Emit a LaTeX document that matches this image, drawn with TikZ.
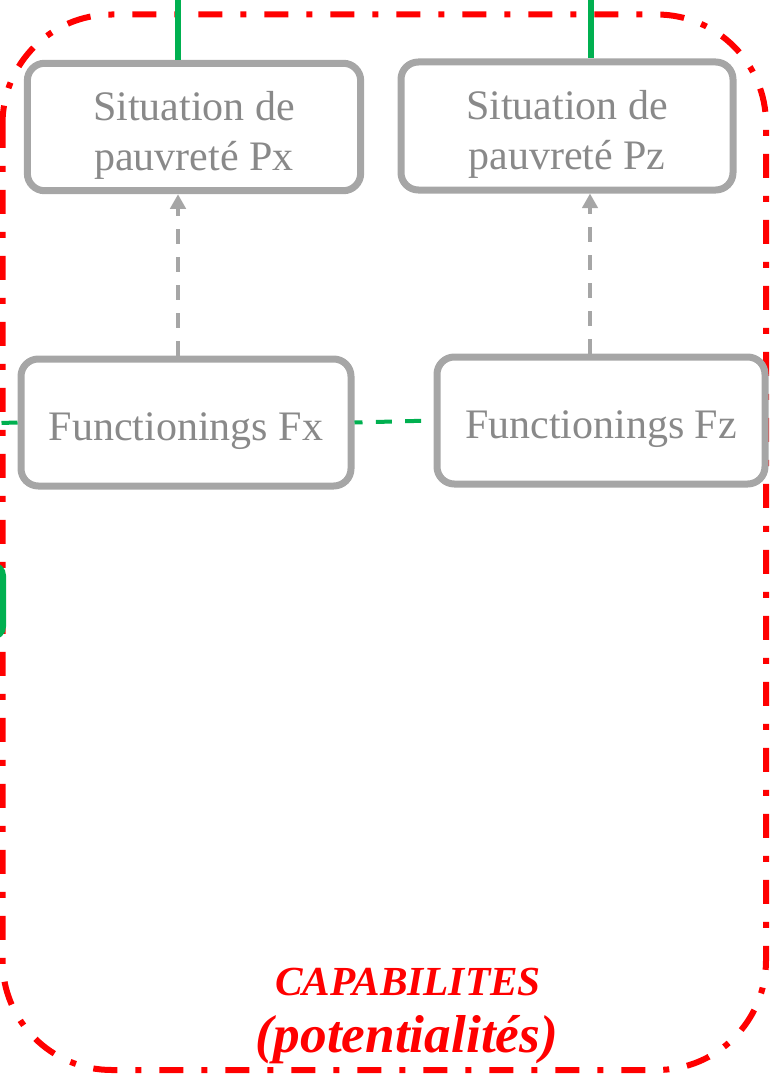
\documentclass[tikz,border=0pt]{standalone}
\usepackage{fontspec}
\setmainfont{Liberation Serif}
\usetikzlibrary{arrows.meta}
\definecolor{boxgray}{HTML}{A6A6A6}
\definecolor{txtgray}{HTML}{898989}
\definecolor{capred}{HTML}{FF0000}
\definecolor{linkgreen}{HTML}{00B050}

\begin{document}
\begin{tikzpicture}[x=0.75pt,y=-0.75pt,
    situbox/.style={draw=boxgray,line width=5.25pt,rounded corners=13pt,text=txtgray,
        align=center,inner sep=2pt,text depth=0pt,font=\fontsize{31.5}{37.5}\selectfont},
    greenlink/.style={draw=linkgreen,line width=4.5pt},
    greendash/.style={draw=linkgreen,line width=3pt,dash pattern=on 12pt off 10pt},
    grayarrow/.style={draw=boxgray,line width=3.5pt,dash pattern=on 11pt off 10pt,
        -{Triangle[length=11pt,width=11.5pt]}},
    capline/.style={draw=capred,line width=4.5pt,rounded corners=82pt,
        dash pattern=on 18pt off 13.5pt on 4.5pt off 13.5pt},
    captext/.style={text=capred,anchor=base,inner sep=0pt}]
    \useasboundingbox (0,0) rectangle (769,1074);
    \clip (0,0) rectangle (769,1074);
    % cadre capabilites
    \draw[capline] (2.5,14.5) rectangle (766,1070);
    % boites
    \node[situbox,text height=65pt,minimum width=250pt,minimum height=95.6pt] (Px) at (194,127)
        {Situation de\\pauvreté Px};
    \node[situbox,text height=65pt,minimum width=249pt,minimum height=96pt] (Pz) at (567,126)
        {Situation de\\pauvreté Pz};
    \node[situbox,text height=27pt,minimum width=247.5pt,minimum height=95.25pt] (Fx) at (186,422.5)
        {Functionings Fx};
    \node[situbox,text height=27pt,minimum width=246pt,minimum height=95.25pt] (Fz) at (601,420.5)
        {Functionings Fz};
    % liens
    \coordinate (topx) at (178,0);
    \coordinate (topz) at (591,0);
    \coordinate (leftin) at (0,423);
    \draw[greenlink] (topx) -- (topx |- Px.north);
    \draw[greenlink] (topz) -- (topz |- Pz.north);
    \draw[greendash,dash phase=6pt] (Fx.east) -- (Fz.west);
    \draw[greendash] (Fx.west) -- (leftin);
    \draw[greenlink,rounded corners=8pt] (-40,565) rectangle (3,637);
    \draw[grayarrow] (topx |- Fx.north) -- (topx |- Px.south);
    \draw[grayarrow] (590,0 |- Fz.north) -- (590,0 |- Pz.south);
    % texte
    \node[captext,font=\fontsize{31}{37}\selectfont\bfseries\itshape] (cap) at (408,995)
        {CAPABILITES};
    \node[captext,font=\fontsize{40}{48}\selectfont\bfseries\itshape] (pot) at (407,1052)
        {(potentialités)};
\end{tikzpicture}
\end{document}
